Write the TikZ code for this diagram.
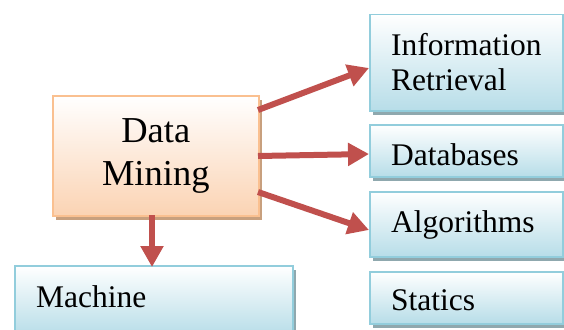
\documentclass[tikz,border=0pt]{standalone}
\usepackage{fontspec}
\setmainfont{Liberation Serif}
\usetikzlibrary{shadows,arrows.meta}
\definecolor{arrowred}{HTML}{C0504D}
\definecolor{orangeedge}{HTML}{FAC090}
\definecolor{orangefill}{HTML}{FBD3B3}
\definecolor{orangeshadow}{HTML}{C8A07E}
\definecolor{blueedge}{HTML}{92CDDC}
\definecolor{bluefill}{HTML}{B7DDE8}
\definecolor{blueshadow}{HTML}{8FA8AE}
\tikzset{
  bluebox/.style={rectangle, draw=blueedge, line width=1.5pt, top color=white, bottom color=bluefill,
    inner sep=0pt, anchor=north west,
    general shadow={fill=blueshadow, shadow xshift=3pt, shadow yshift=-4pt}},
  orangebox/.style={rectangle, draw=orangeedge, line width=1.5pt, top color=white, bottom color=orangefill,
    inner sep=0pt, anchor=north west, align=center, font=\fontsize{36.5}{43}\selectfont,
    general shadow={fill=orangeshadow, shadow xshift=3pt, shadow yshift=-4pt}},
  lbl/.style={anchor=base west, inner sep=0pt, align=left, font=\fontsize{31.5}{35}\selectfont},
  link/.style={draw=arrowred, line width=6pt, -{Triangle[length=21pt,width=22pt]}, shorten >=0pt}
}
\begin{document}
\begin{tikzpicture}[x=1pt,y=-1pt]
\useasboundingbox (0,0) rectangle (564,329);
% right boxes
\node[bluebox, minimum width=193pt, minimum height=96pt] (ir) at (369,14) {};
\node[bluebox, minimum width=193pt, minimum height=52pt] (db) at (369,124) {};
\node[bluebox, minimum width=193pt, minimum height=65pt] (al) at (369,191) {};
\node[bluebox, minimum width=193pt, minimum height=52pt] (st) at (369,271) {};
\node[bluebox, minimum width=278pt, minimum height=70pt] (ma) at (14,265) {};
% central box
\node[orangebox, minimum width=206pt, minimum height=120pt] (dm) at (52,95) {Data\\Mining};
% labels
\node[lbl] (irt) at (391,90) {Information\\Retrieval};
\node[lbl] (dbt) at (391,165) {Databases};
\node[lbl] (alt) at (391,232) {Algorithms};
\node[lbl] (stt) at (391,310) {Statics};
\node[lbl] (mat) at (36,307) {Machine};
% connector end points
\coordinate (a1) at (258,110);
\coordinate (a2) at (258,156);
\coordinate (a3) at (258,192);
\coordinate (a4) at (152,215);
\draw[link] (a1) -- (ir.west |- 0,68);
\draw[link] (a2) -- (db.west |- 0,154);
\draw[link] (a3) -- (al.west |- 0,230);
\draw[link] (a4) -- (152,267);
\end{tikzpicture}
\end{document}
